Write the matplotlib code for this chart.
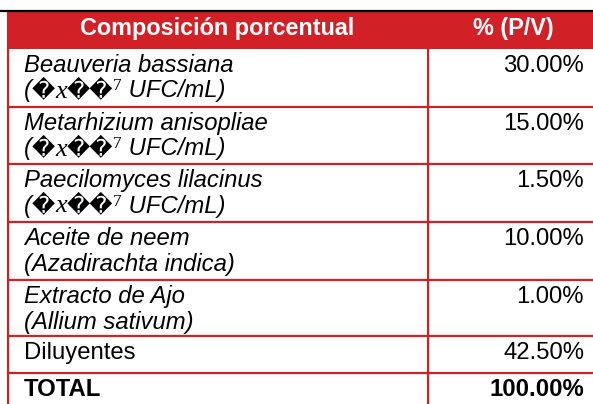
import matplotlib
matplotlib.use("Agg")
import matplotlib.pyplot as plt

# ---- data ----
headers = ["Composición porcentual", "% (P/V)"]
names_line1 = ["Beauveria bassiana", "Metarhizium anisopliae", "Paecilomyces lilacinus",
               "Aceite de neem", "Extracto de Ajo", "Diluyentes", "TOTAL"]
names_line2 = ["UFC", "UFC", "UFC", "(Azadirachta indica)", "(Allium sativum)", "", ""]
values = [30.00, 15.00, 1.50, 10.00, 1.00, 42.50, 100.00]
italic_rows = [True, True, True, True, True, False, False]
bold_rows = [False, False, False, False, False, False, True]

# ---- layout (pixels) ----
W, H = 593, 404
RED = "#D12127"
row_edges = [49, 107, 164, 222, 280, 336, 373, 404]
left_x, mid_x, right_x = 7.5, 428, 593
fs = 17.2

fig = plt.figure(figsize=(W / 100, H / 100), dpi=100)
ax = fig.add_axes([0, 0, 1, 1])
ax.set_xlim(0, W)
ax.set_ylim(H, 0)
ax.axis("off")

# top black rule
ax.plot([0, W], [10.5, 10.5], color="black", lw=1.6, solid_capstyle="butt")
# header fill
ax.add_patch(plt.Rectangle((left_x, 12), right_x - left_x, row_edges[0] - 12,
                           facecolor=RED, edgecolor="none"))
ax.text(217, 35, headers[0], color="white", fontsize=fs * 0.98,
        fontweight="bold", family="Liberation Sans", ha="center", va="baseline")
ax.text(513, 35, headers[1], color="white", fontsize=fs * 0.98,
        fontweight="bold", family="Liberation Sans", ha="center", va="baseline")

# grid lines
for y in row_edges[1:-1]:
    ax.plot([left_x, right_x], [y, y], color=RED, lw=1.6, solid_capstyle="butt")
ax.plot([left_x, left_x], [12, H], color=RED, lw=1.6, solid_capstyle="butt")
ax.plot([mid_x, mid_x], [row_edges[0], H], color=RED, lw=1.6, solid_capstyle="butt")

fig.canvas.draw()
renderer = fig.canvas.get_renderer()


def draw_pieces(x, y, pieces):
    """pieces: list of (text, kwargs, dy)"""
    for txt, kw, dy in pieces:
        t = ax.text(x, y + dy, txt, ha="left", va="baseline", **kw)
        bb = t.get_window_extent(renderer=renderer)
        x += bb.width  # pixels == data units here


sans_it = dict(fontsize=fs, family="Liberation Sans", style="italic", color="black")
for i, top in enumerate(row_edges[:-1]):
    base = top + 23
    weight = "bold" if bold_rows[i] else "normal"
    style = "italic" if italic_rows[i] else "normal"
    ax.text(24, base, names_line1[i], fontsize=fs, family="Liberation Sans",
            style=style, fontweight=weight, ha="left", va="baseline")
    if names_line2[i] == "UFC":
        rep = dict(fontsize=fs * 0.95, family="DejaVu Sans", color="black")
        mx = dict(fontsize=fs * 1.1, family="Liberation Serif", style="italic", color="black")
        sup = dict(fontsize=fs * 0.72, family="Liberation Serif", color="black")
        draw_pieces(24, base + 25.5, [
            ("(", sans_it, 0),
            ("\ufffd", rep, 0),
            ("x", mx, 0),
            ("\ufffd\ufffd", rep, 0),
            ("7", sup, -7),
            (" UFC/mL)", sans_it, 0),
        ])
    elif names_line2[i]:
        ax.text(24, base + 25.5, names_line2[i], fontsize=fs, family="Liberation Sans",
                style=style, ha="left", va="baseline")
    ax.text(584, base, f"{values[i]:.2f}%", fontsize=fs, family="Liberation Sans",
            fontweight=weight, ha="right", va="baseline")

fig.savefig("out.png", dpi=100)
